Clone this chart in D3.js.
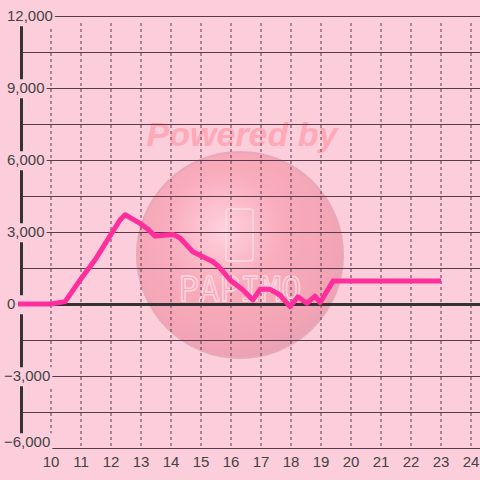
<!DOCTYPE html>
<html>
<head>
<meta charset="utf-8">
<script src="https://cdn.jsdelivr.net/npm/d3@7"></script>
<style>
  body { margin: 0; background: #fccdda; }
  svg { display: block; }
</style>
</head>
<body>
<div id="chart"></div>
<script>
// hours of the day and the value at each hour
const hours = [8.9, 10, 10.47, 10.97, 11.5, 12.0, 12.3, 12.47, 12.97, 13.2, 13.47, 14.07, 14.3, 14.73, 15.4, 15.6, 15.97, 16.4, 16.73, 16.97, 17.3, 17.63, 17.97, 18.23, 18.53, 18.8, 18.97, 19.4, 23];
const values = [0, 0, 100, 1000, 1900, 2900, 3500, 3720, 3360, 3150, 2830, 2900, 2750, 2180, 1760, 1550, 1000, 580, 170, 610, 610, 375, -110, 300, 30, 330, 55, 960, 960];

const yTicks = [-6000, -3000, 0, 3000, 6000, 9000, 12000];
const yGrid = d3.range(-6000, 12001, 1500);
const xTicks = d3.range(10, 25);

const W = 480, H = 480;
const bg = "#fccdda";

const svg = d3.select("#chart").append("svg")
  .attr("width", W)
  .attr("height", H);

svg.append("rect").attr("width", W).attr("height", H).attr("fill", bg);

const x = d3.scaleLinear().domain([9, 24.3]).range([21, 480]);
const y = d3.scaleLinear().domain([-6000, 12000]).range([448, 16]);

// watermark
const defs = svg.append("defs");
const grad = defs.append("radialGradient")
  .attr("id", "ball")
  .attr("cx", "42%").attr("cy", "38%").attr("r", "62%");
grad.append("stop").attr("offset", "0%").attr("stop-color", "#ffd2de");
grad.append("stop").attr("offset", "45%").attr("stop-color", "#f9a9b9");
grad.append("stop").attr("offset", "90%").attr("stop-color", "#f2a0b2");
grad.append("stop").attr("offset", "100%").attr("stop-color", "#e99fb1");

const wm = svg.append("g");
wm.append("circle")
  .attr("cx", 240).attr("cy", 255).attr("r", 103)
  .attr("fill", "url(#ball)")
  .attr("stroke", "#e6a5b6")
  .attr("stroke-width", 2)
  .attr("opacity", 0.9);
wm.append("rect")
  .attr("x", 226).attr("y", 209).attr("width", 27).attr("height", 52)
  .attr("rx", 3)
  .attr("fill", "none")
  .attr("stroke", "#ffd9e4")
  .attr("stroke-width", 2)
  .attr("opacity", 0.8);
wm.append("text")
  .attr("x", 240).attr("y", 301)
  .attr("text-anchor", "middle")
  .attr("font-family", "DejaVu Sans Mono, monospace")
  .attr("font-size", 34)
  .attr("fill", "none")
  .attr("stroke", "#ffdbe6")
  .attr("stroke-width", 1.6)
  .attr("opacity", 0.85)
  .text("PAPIMO");
wm.append("text")
  .attr("x", 242).attr("y", 146)
  .attr("text-anchor", "middle")
  .attr("font-family", "Liberation Sans, Arial, sans-serif")
  .attr("font-weight", "bold")
  .attr("font-style", "italic")
  .attr("font-size", 34)
  .attr("fill", "#ffa9b8")
  .text("Powered by");

// grid
const gridColor = "#5a3a4a";
svg.append("g").selectAll("line.v")
  .data(xTicks)
  .enter().append("line")
  .attr("x1", d => x(d)).attr("x2", d => x(d))
  .attr("y1", y(12000) + 7).attr("y2", y(-6000))
  .attr("stroke", gridColor)
  .attr("stroke-width", 1)
  .attr("stroke-dasharray", "3,3");

svg.append("g").selectAll("line.h")
  .data(yGrid)
  .enter().append("line")
  .attr("x1", 22).attr("x2", W)
  .attr("y1", d => y(d) + 0.5).attr("y2", d => y(d) + 0.5)
  .attr("stroke", gridColor)
  .attr("stroke-width", 1);

// zero line
svg.append("line")
  .attr("x1", 21).attr("x2", W)
  .attr("y1", y(0) + 0.5).attr("y2", y(0) + 0.5)
  .attr("stroke", "#333")
  .attr("stroke-width", 3);

// left axis
svg.append("line")
  .attr("x1", 21.5).attr("x2", 21.5)
  .attr("y1", y(12000)).attr("y2", y(-6000))
  .attr("stroke", "#333")
  .attr("stroke-width", 3);

// y labels with background
const fmt = d3.format(",");
const yl = svg.append("g").selectAll("g")
  .data(yTicks)
  .enter().append("g");
yl.append("text")
  .attr("x", d => d < 0 ? 4 : 7)
  .attr("y", d => d === -6000 ? y(d) - 6 : y(d))
  .attr("dy", "0.35em")
  .attr("font-family", "Liberation Sans, Arial, sans-serif")
  .attr("font-size", 15)
  .attr("fill", "#444")
  .text(d => fmt(d))
  .each(function() {
    const b = this.getBBox();
    const right = Math.max(b.x + b.width + 2, 25);
    d3.select(this.parentNode).insert("rect", "text")
      .attr("x", 2).attr("y", b.y)
      .attr("width", right - 2).attr("height", b.height + 2)
      .attr("fill", bg);
  });

// data line
const line = d3.line()
  .x((d, i) => x(hours[i]))
  .y(d => y(d));

svg.append("path")
  .datum(values)
  .attr("d", line)
  .attr("fill", "none")
  .attr("stroke", "#ff2e9c")
  .attr("stroke-width", 5)
  .attr("stroke-linejoin", "round");

// x labels
svg.append("g").selectAll("text")
  .data(xTicks)
  .enter().append("text")
  .attr("x", d => x(d))
  .attr("y", 467)
  .attr("text-anchor", "middle")
  .attr("font-family", "Liberation Sans, Arial, sans-serif")
  .attr("font-size", 15)
  .attr("fill", "#444")
  .text(d => d);
</script>
</body>
</html>
